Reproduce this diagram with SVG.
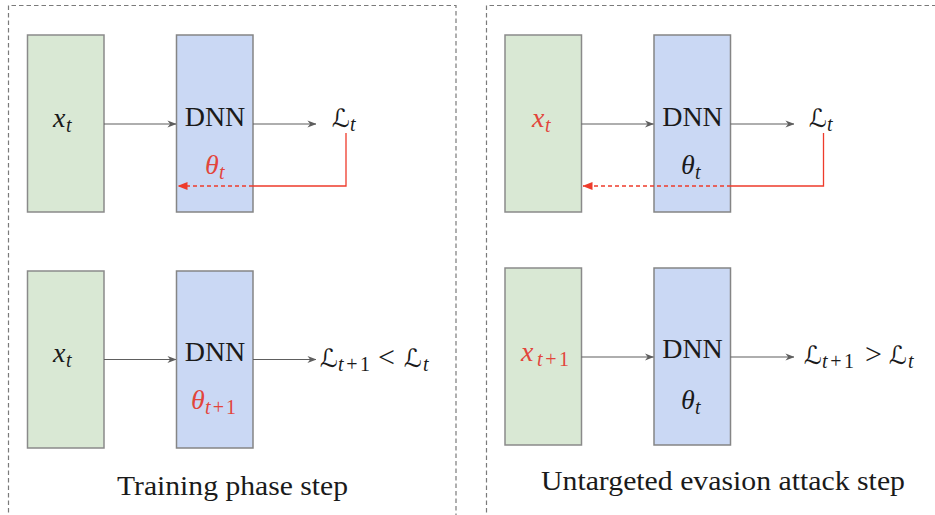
<svg xmlns="http://www.w3.org/2000/svg" width="935" height="515" viewBox="0 0 935 515">
<defs>
<marker id="ga" viewBox="0 0 10 10" refX="9.5" refY="5" markerWidth="9" markerHeight="9" markerUnits="userSpaceOnUse" orient="auto">
<path d="M0,1 L10,5 L0,9 L3,5 Z" fill="#5e5e5e"/>
</marker>
<marker id="ra" viewBox="0 0 10 10" refX="9.5" refY="5" markerWidth="10" markerHeight="10" markerUnits="userSpaceOnUse" orient="auto">
<path d="M0,1 L10,5 L0,9 Z" fill="#ee3b2b"/>
</marker>
</defs>
<rect x="0" y="0" width="935" height="515" fill="#ffffff"/>

<g id="panels" fill="none" stroke="#7a7a7a" stroke-width="1.2" stroke-dasharray="4.5 3">
<path d="M8.5,520 V5.5 H456 V520"/>
<path d="M486.5,520 V5.5 H940"/>
</g>

<g font-family="Liberation Serif" fill="#1a1a1a">
<g id="train-top-input"><rect fill="#d9e8d4" stroke="#8a8a8a" stroke-width="1.5" x="27.5" y="35" width="76.5" height="177"/>
<text x="53" y="127" font-style="italic" font-size="28">x</text>
<text x="66" y="132" font-style="italic" font-size="20">t</text></g>
<g id="train-top-dnn"><rect fill="#cad8f4" stroke="#858585" stroke-width="1.5" x="176.5" y="35" width="76.5" height="177"/>
<text x="215" y="126" font-size="28" text-anchor="middle">DNN</text>
<text fill="#e2453b" x="205" y="174" font-style="italic" font-size="28">θ</text>
<text fill="#e2453b" x="219" y="179" font-style="italic" font-size="20">t</text></g>
<g id="train-top-loss">
<text x="332" y="127" font-family="DejaVu Sans" font-size="25">ℒ</text>
<text x="350" y="131" font-style="italic" font-size="20">t</text></g>

<g id="train-bot-input"><rect fill="#d9e8d4" stroke="#8a8a8a" stroke-width="1.5" x="27.5" y="271" width="76.5" height="177"/>
<text x="53" y="362" font-style="italic" font-size="28">x</text>
<text x="66" y="367" font-style="italic" font-size="20">t</text></g>
<g id="train-bot-dnn"><rect fill="#cad8f4" stroke="#858585" stroke-width="1.5" x="176.5" y="271" width="76.5" height="177"/>
<text x="215" y="361" font-size="28" text-anchor="middle">DNN</text>
<text fill="#e2453b" x="191" y="409" font-style="italic" font-size="28">θ</text>
<text fill="#e2453b" x="205" y="414" font-size="20" textLength="31" lengthAdjust="spacing"><tspan font-style="italic">t</tspan>+1</text></g>
<g id="train-bot-loss">
<text x="320" y="367" font-family="DejaVu Sans" font-size="25">ℒ</text>
<text x="338" y="371" font-size="20" textLength="32" lengthAdjust="spacing"><tspan font-style="italic">t</tspan>+1</text>
<text x="378" y="367" font-size="30">&lt;</text>
<text x="404" y="367" font-family="DejaVu Sans" font-size="25">ℒ</text>
<text x="423" y="371" font-style="italic" font-size="20">t</text></g>

<g id="caption-train"><text x="232.5" y="495" font-size="27" text-anchor="middle" textLength="231" lengthAdjust="spacingAndGlyphs">Training phase step</text></g>

<g id="attack-top-input"><rect fill="#d9e8d4" stroke="#8a8a8a" stroke-width="1.5" x="505" y="35" width="76.5" height="177"/>
<text fill="#e2453b" x="532" y="127" font-style="italic" font-size="28">x</text>
<text fill="#e2453b" x="545" y="132" font-style="italic" font-size="20">t</text></g>
<g id="attack-top-dnn"><rect fill="#cad8f4" stroke="#858585" stroke-width="1.5" x="654" y="35" width="76.5" height="177"/>
<text x="692.5" y="126" font-size="28" text-anchor="middle">DNN</text>
<text x="681" y="174" font-style="italic" font-size="28">θ</text>
<text x="695" y="179" font-style="italic" font-size="20">t</text></g>
<g id="attack-top-loss">
<text x="809" y="127" font-family="DejaVu Sans" font-size="25">ℒ</text>
<text x="827" y="131" font-style="italic" font-size="20">t</text></g>

<g id="attack-bot-input"><rect fill="#d9e8d4" stroke="#8a8a8a" stroke-width="1.5" x="505" y="268" width="76.5" height="177"/>
<text fill="#e2453b" x="521" y="361" font-style="italic" font-size="28">x</text>
<text fill="#e2453b" x="537" y="366" font-size="20" textLength="32" lengthAdjust="spacing"><tspan font-style="italic">t</tspan>+1</text></g>
<g id="attack-bot-dnn"><rect fill="#cad8f4" stroke="#858585" stroke-width="1.5" x="654" y="268" width="76.5" height="177"/>
<text x="692.5" y="358" font-size="28" text-anchor="middle">DNN</text>
<text x="681" y="409" font-style="italic" font-size="28">θ</text>
<text x="695" y="414" font-style="italic" font-size="20">t</text></g>
<g id="attack-bot-loss">
<text x="804" y="364" font-family="DejaVu Sans" font-size="25">ℒ</text>
<text x="822" y="368" font-size="20" textLength="32" lengthAdjust="spacing"><tspan font-style="italic">t</tspan>+1</text>
<text x="865" y="364" font-size="30">&gt;</text>
<text x="889" y="364" font-family="DejaVu Sans" font-size="25">ℒ</text>
<text x="908" y="368" font-style="italic" font-size="20">t</text></g>

<g id="caption-attack"><text x="723" y="490" font-size="27" text-anchor="middle" textLength="364" lengthAdjust="spacingAndGlyphs">Untargeted evasion attack step</text></g>
</g>

<g id="connectors" fill="none" stroke-width="1.2">
<g stroke="#5e5e5e" marker-end="url(#ga)">
<path d="M104,124 H176"/>
<path d="M253,124 H316"/>
<path d="M104,359.5 H176"/>
<path d="M253,359.5 H316"/>
<path d="M581.5,124 H653.5"/>
<path d="M730.5,124 H794"/>
<path d="M581.5,357 H653.5"/>
<path d="M730.5,357 H794"/>
</g>
<g stroke="#ee3b2b" stroke-width="1.3">
<path d="M346,133 V186 H253"/>
<path d="M823.5,133 V186 H731"/>
</g>
<g stroke="#ee3b2b" stroke-width="1.3" stroke-dasharray="4 3" marker-end="url(#ra)">
<path d="M253,186 H178"/>
<path d="M731,186 H583"/>
</g>
</g>
</svg>
